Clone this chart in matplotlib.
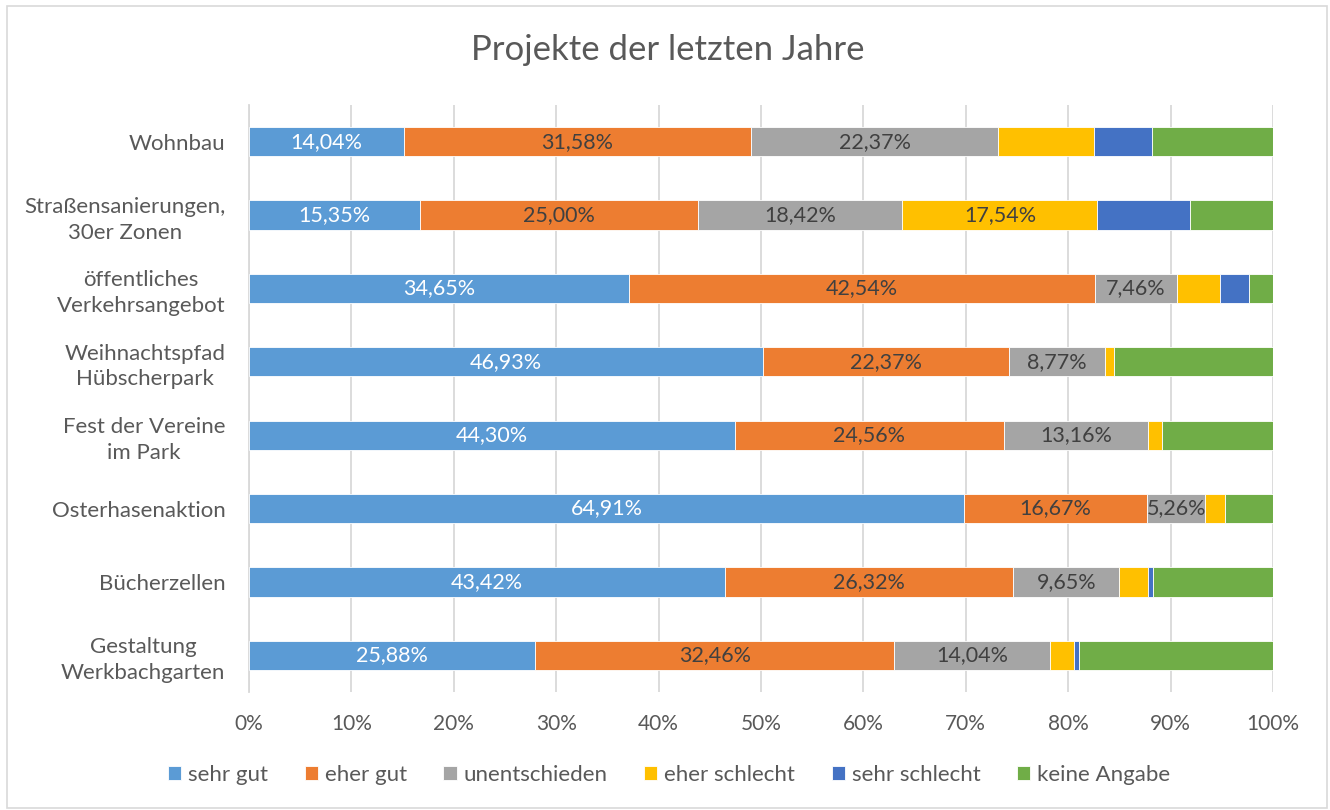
import numpy as np
import matplotlib.pyplot as plt
from matplotlib.patches import Rectangle

plt.rcParams['font.family'] = ['Lato', 'DejaVu Sans']

categories = ['Wohnbau', 'Straßensanierungen,\n30er Zonen', 'öffentliches\nVerkehrsangebot',
              'Weihnachtspfad\nHübscherpark', 'Fest der Vereine\nim Park', 'Osterhasenaktion',
              'Bücherzellen', 'Gestaltung\nWerkbachgarten']
series = ['sehr gut', 'eher gut', 'unentschieden', 'eher schlecht', 'sehr schlecht', 'keine Angabe']

# answer shares in percent of all respondents (rows do not add up to 100)
sehr_gut = [14.04, 15.35, 34.65, 46.93, 44.30, 64.91, 43.42, 25.88]
eher_gut = [31.58, 25.00, 42.54, 22.37, 24.56, 16.67, 26.32, 32.46]
unentschieden = [22.37, 18.42, 7.46, 8.77, 13.16, 5.26, 9.65, 14.04]
eher_schlecht = [8.77, 17.54, 3.95, 0.88, 1.32, 1.75, 2.63, 2.19]
sehr_schlecht = [5.26, 8.33, 2.63, 0.00, 0.00, 0.00, 0.44, 0.44]
keine_angabe = [10.96, 7.46, 2.19, 14.47, 10.09, 4.39, 10.96, 17.54]

colors = ['#5B9BD5', '#ED7D31', '#A5A5A5', '#FFC000', '#4472C4', '#70AD47']
text_col = '#595959'

data = np.array([sehr_gut, eher_gut, unentschieden, eher_schlecht, sehr_schlecht, keine_angabe])
shares = data / data.sum(axis=0) * 100  # 100% stacked

fig = plt.figure(figsize=(13.3, 8.1), dpi=100)
ax = fig.add_axes([249 / 1330, 1 - 692 / 810, 1024 / 1330, 587 / 810])

y = np.arange(len(categories))
left = np.zeros(len(categories))
for i, name in enumerate(series):
    bars = ax.barh(y, shares[i], left=left, height=0.4, color=colors[i],
                   edgecolor='white', linewidth=0.6, label=name, zorder=3)
    for j, b in enumerate(bars):
        v = data[i, j]
        # labels only on the first three series, plus the one big "eher schlecht"
        if i < 3 or (i == 3 and v >= 15):
            ax.text(left[j] + shares[i, j] / 2, y[j], f'{v:.2f}%'.replace('.', ','),
                    ha='center', va='center', fontsize=15.5,
                    color='white' if i == 0 else '#404040', zorder=4)
    left += shares[i]

ax.set_xlim(0, 100)
ax.set_ylim(len(categories) - 0.5, -0.5)
ax.set_xticks(np.arange(0, 101, 10))
ax.set_xticklabels([f'{t}%' for t in range(0, 101, 10)])
ax.set_yticks(y)
ax.set_yticklabels(categories)
for t in ax.get_yticklabels():
    t.set_multialignment('center')
    t.set_linespacing(1.35)
ax.tick_params(axis='x', length=0, pad=16, labelsize=15, labelcolor=text_col)
ax.tick_params(axis='y', length=0, pad=17, labelsize=16, labelcolor=text_col)
ax.grid(axis='x', color='#D9D9D9', linewidth=1.3, zorder=0)
for s in ['top', 'right', 'bottom']:
    ax.spines[s].set_visible(False)
ax.spines['left'].set_color('#D9D9D9')
ax.spines['left'].set_linewidth(1.3)

fig.text(0.502, 0.938, 'Projekte der letzten Jahre', ha='center', va='center',
         fontsize=25, color=text_col)

fig.legend(loc='center', bbox_to_anchor=(0.503, 0.043), ncol=6, frameon=False,
           fontsize=16, labelcolor=text_col, handlelength=0.6, handleheight=0.6,
           handletextpad=0.3, columnspacing=1.65)

fig.patches.append(Rectangle((0.005, 0.003), 0.993, 0.99, transform=fig.transFigure,
                             fill=False, edgecolor='#D9D9D9', linewidth=1.2))

fig.savefig('out.png', dpi=100)
